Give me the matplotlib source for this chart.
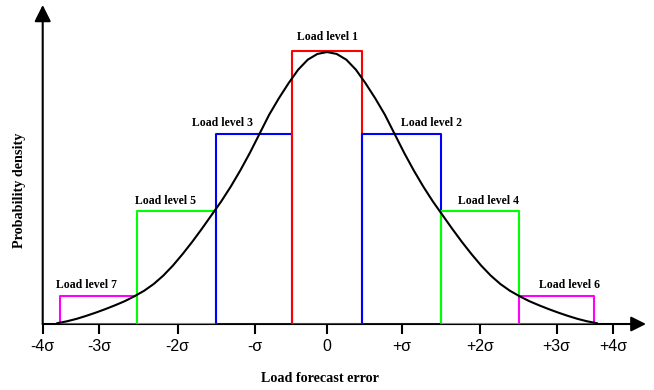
import matplotlib.pyplot as plt

# density curve (x in sigma units)
curve_x = [-3.5, -3.375, -3.25, -3.125, -3.0, -2.875, -2.75, -2.625, -2.5, -2.375,
           -2.25, -2.125, -2.0, -1.875, -1.75, -1.625, -1.5, -1.375, -1.25, -1.125,
           -1.0, -0.875, -0.75, -0.625, -0.5, -0.375, -0.25, -0.125, 0.0,
           0.125, 0.25, 0.375, 0.5, 0.625, 0.75, 0.875, 1.0, 1.125, 1.25, 1.375,
           1.5, 1.625, 1.75, 1.875, 2.0, 2.125, 2.25, 2.375, 2.5, 2.625, 2.75,
           2.875, 3.0, 3.125, 3.25, 3.375, 3.5]
curve_y = [0.003, 0.010, 0.019, 0.030, 0.042, 0.055, 0.069, 0.084, 0.102, 0.122,
           0.147, 0.178, 0.215, 0.257, 0.302, 0.350, 0.400, 0.450, 0.505, 0.565,
           0.630, 0.700, 0.770, 0.830, 0.885, 0.935, 0.972, 0.993, 1.000,
           0.993, 0.972, 0.935, 0.885, 0.830, 0.770, 0.700, 0.630, 0.565, 0.505, 0.450,
           0.400, 0.350, 0.302, 0.257, 0.215, 0.178, 0.147, 0.122, 0.102, 0.084, 0.069,
           0.055, 0.042, 0.030, 0.019, 0.010, 0.003]

# load level boxes
levels = ["Load level 7", "Load level 5", "Load level 3", "Load level 1",
          "Load level 2", "Load level 4", "Load level 6"]
box_left = [-3.46, -2.47, -1.44, -0.46, 0.46, 1.48, 2.49]
box_right = [-2.47, -1.44, -0.46, 0.46, 1.48, 2.49, 3.47]
box_height = [0.103, 0.415, 0.70, 1.005, 0.70, 0.415, 0.103]
box_color = ["#ff00ff", "#00ff00", "#0000ff", "#ff0000", "#0000ff", "#00ff00", "#ff00ff"]
label_x = [-3.12, -2.10, -1.36, 0.0, 1.36, 2.10, 3.15]
label_y = [0.143, 0.452, 0.739, 1.055, 0.739, 0.452, 0.143]

tick_pos = [-3.69, -2.96, -1.94, -0.94, 0.0, 0.97, 1.99, 2.98, 3.71]
tick_lbl = ["-4σ", "-3σ", "-2σ", "-σ", "0", "+σ", "+2σ", "+3σ", "+4σ"]

fig = plt.figure(figsize=(6.54, 3.90), dpi=100)
ax = fig.add_axes([0.0653, 0.1692, 0.9225, 0.818])
ax.set_xlim(-3.69, 4.14)
ax.set_ylim(0, 1.173)
for s in ax.spines.values():
    s.set_visible(False)
ax.set_yticks([])

# axes with arrows
ax.annotate("", xy=(4.14, 0), xytext=(-3.69, 0),
            arrowprops=dict(arrowstyle="-|>,head_length=0.9,head_width=0.45",
                            color="black", lw=1.5, shrinkA=0, shrinkB=0), annotation_clip=False)
ax.annotate("", xy=(-3.69, 1.173), xytext=(-3.69, 0),
            arrowprops=dict(arrowstyle="-|>,head_length=1.0,head_width=0.5",
                            color="black", lw=1.5, shrinkA=0, shrinkB=0), annotation_clip=False)

for l, r, h, c in zip(box_left, box_right, box_height, box_color):
    ax.plot([l, l, r, r], [0, h, h, 0], color=c, lw=1.5, zorder=2)
    ax.plot([l, r], [0, 0], color=c, lw=2.0, zorder=3)

ax.plot(curve_x, curve_y, color="black", lw=1.5, zorder=4)

for name, x, y in zip(levels, label_x, label_y):
    ax.text(x, y, name, ha="center", va="center", fontsize=8.5, fontweight="bold",
            family="Liberation Serif")

ax.set_xticks(tick_pos)
ax.set_xticklabels(tick_lbl, family="Liberation Sans", fontsize=11.5)
ax.tick_params(axis="x", direction="out", length=7, width=1.5, pad=4)

fig.text(320 / 654, 1 - 379 / 390, "Load forecast error", ha="center", va="center",
         fontsize=10.2, fontweight="bold", family="Liberation Serif")
fig.text(20 / 654, 1 - 190 / 390, "Probability density", ha="center", va="center",
         rotation=90, fontsize=10.2, fontweight="bold", family="Liberation Serif")

fig.savefig("out.png", dpi=100)
